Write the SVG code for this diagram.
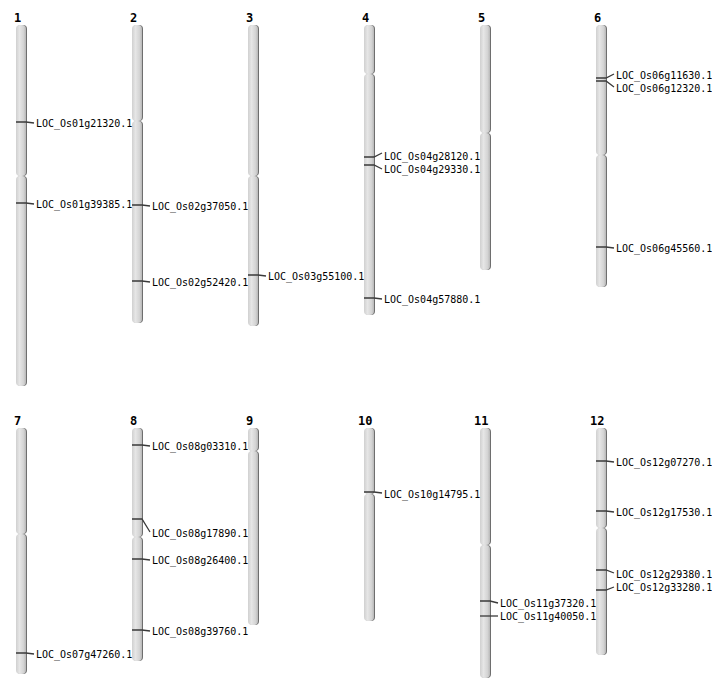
<svg xmlns="http://www.w3.org/2000/svg" width="712" height="700" viewBox="0 0 712 700">
<defs>
<linearGradient id="g" x1="0" y1="0" x2="1" y2="0">
<stop offset="0" stop-color="#d0d0d0"/>
<stop offset="0.35" stop-color="#e6e6e6"/>
<stop offset="0.75" stop-color="#d4d4d4"/>
<stop offset="1" stop-color="#b8b8b8"/>
</linearGradient>
</defs>
<style>
.sh{fill:#6e6e6e}
.arm{fill:url(#g)}
.num{font-family:"DejaVu Sans Mono",monospace;font-weight:bold;font-size:12px;fill:#000}
.lab{font-family:"DejaVu Sans Mono",monospace;font-size:10px;fill:#000}
.mk{fill:none;stroke:#3a3a3a;stroke-width:1.3}
</style>
<rect width="712" height="700" fill="#fff"/>

<g id="chr1">
<text class="num" x="14" y="22">1</text>
<rect class="sh" x="17" y="25" width="10" height="151" rx="4"/><rect class="arm" x="16" y="25" width="10" height="151" rx="4"/>
<rect class="sh" x="17" y="176" width="10" height="210" rx="4"/><rect class="arm" x="16" y="176" width="10" height="210" rx="4"/>
</g>
<g id="chr2">
<text class="num" x="130" y="22">2</text>
<rect class="sh" x="133" y="25" width="10" height="96" rx="4"/><rect class="arm" x="132" y="25" width="10" height="96" rx="4"/>
<rect class="sh" x="133" y="121" width="10" height="202" rx="4"/><rect class="arm" x="132" y="121" width="10" height="202" rx="4"/>
</g>
<g id="chr3">
<text class="num" x="246" y="22">3</text>
<rect class="sh" x="249" y="25" width="10" height="151" rx="4"/><rect class="arm" x="248" y="25" width="10" height="151" rx="4"/>
<rect class="sh" x="249" y="176" width="10" height="150" rx="4"/><rect class="arm" x="248" y="176" width="10" height="150" rx="4"/>
</g>
<g id="chr4">
<text class="num" x="362" y="22">4</text>
<rect class="sh" x="365" y="25" width="10" height="49" rx="4"/><rect class="arm" x="364" y="25" width="10" height="49" rx="4"/>
<rect class="sh" x="365" y="74" width="10" height="241" rx="4"/><rect class="arm" x="364" y="74" width="10" height="241" rx="4"/>
</g>
<g id="chr5">
<text class="num" x="478" y="22">5</text>
<rect class="sh" x="481" y="25" width="10" height="108" rx="4"/><rect class="arm" x="480" y="25" width="10" height="108" rx="4"/>
<rect class="sh" x="481" y="133" width="10" height="137" rx="4"/><rect class="arm" x="480" y="133" width="10" height="137" rx="4"/>
</g>
<g id="chr6">
<text class="num" x="594" y="22">6</text>
<rect class="sh" x="597" y="25" width="10" height="130" rx="4"/><rect class="arm" x="596" y="25" width="10" height="130" rx="4"/>
<rect class="sh" x="597" y="155" width="10" height="132" rx="4"/><rect class="arm" x="596" y="155" width="10" height="132" rx="4"/>
</g>
<g id="chr7">
<text class="num" x="14" y="425">7</text>
<rect class="sh" x="17" y="428" width="10" height="106" rx="4"/><rect class="arm" x="16" y="428" width="10" height="106" rx="4"/>
<rect class="sh" x="17" y="534" width="10" height="140" rx="4"/><rect class="arm" x="16" y="534" width="10" height="140" rx="4"/>
</g>
<g id="chr8">
<text class="num" x="130" y="425">8</text>
<rect class="sh" x="133" y="428" width="10" height="109" rx="4"/><rect class="arm" x="132" y="428" width="10" height="109" rx="4"/>
<rect class="sh" x="133" y="537" width="10" height="124" rx="4"/><rect class="arm" x="132" y="537" width="10" height="124" rx="4"/>
</g>
<g id="chr9">
<text class="num" x="246" y="425">9</text>
<rect class="sh" x="249" y="428" width="10" height="23" rx="4"/><rect class="arm" x="248" y="428" width="10" height="23" rx="4"/>
<rect class="sh" x="249" y="451" width="10" height="174" rx="4"/><rect class="arm" x="248" y="451" width="10" height="174" rx="4"/>
</g>
<g id="chr10">
<text class="num" x="358" y="425">10</text>
<rect class="sh" x="365" y="428" width="10" height="66" rx="4"/><rect class="arm" x="364" y="428" width="10" height="66" rx="4"/>
<rect class="sh" x="365" y="494" width="10" height="127" rx="4"/><rect class="arm" x="364" y="494" width="10" height="127" rx="4"/>
</g>
<g id="chr11">
<text class="num" x="474" y="425">11</text>
<rect class="sh" x="481" y="428" width="10" height="117" rx="4"/><rect class="arm" x="480" y="428" width="10" height="117" rx="4"/>
<rect class="sh" x="481" y="545" width="10" height="133" rx="4"/><rect class="arm" x="480" y="545" width="10" height="133" rx="4"/>
</g>
<g id="chr12">
<text class="num" x="590" y="425">12</text>
<rect class="sh" x="597" y="428" width="10" height="100" rx="4"/><rect class="arm" x="596" y="428" width="10" height="100" rx="4"/>
<rect class="sh" x="597" y="528" width="10" height="127" rx="4"/><rect class="arm" x="596" y="528" width="10" height="127" rx="4"/>
</g>

<g id="connectors">
<polyline class="mk" points="16,122 26,122 34,123"/>
<polyline class="mk" points="16,203 26,203 34,204"/>
<polyline class="mk" points="132,205 142,205 150,206"/>
<polyline class="mk" points="132,281 142,281 150,282"/>
<polyline class="mk" points="248,275 258,275 266,276"/>
<polyline class="mk" points="364,157 374,157 382,153"/>
<polyline class="mk" points="364,165 374,165 382,169"/>
<polyline class="mk" points="364,298 374,298 382,299"/>
<polyline class="mk" points="596,78 606,78 614,74"/>
<polyline class="mk" points="596,81 606,81 614,87"/>
<polyline class="mk" points="596,247 606,247 614,248"/>
<polyline class="mk" points="16,653 26,653 34,654"/>
<polyline class="mk" points="132,445 142,445 150,446"/>
<polyline class="mk" points="132,519 142,519 150,532"/>
<polyline class="mk" points="132,559 142,559 150,560"/>
<polyline class="mk" points="132,630 142,630 150,631"/>
<polyline class="mk" points="364,492 374,492 382,493"/>
<polyline class="mk" points="480,601 490,601 498,603"/>
<polyline class="mk" points="480,616 490,616 498,616"/>
<polyline class="mk" points="596,461 606,461 614,462"/>
<polyline class="mk" points="596,511 606,511 614,512"/>
<polyline class="mk" points="596,570 606,570 614,573"/>
<polyline class="mk" points="596,590 606,590 614,587"/>
</g>

<g id="labels">
<text class="lab" x="36" y="126.5">LOC_Os01g21320.1</text>
<text class="lab" x="36" y="207.5">LOC_Os01g39385.1</text>
<text class="lab" x="152" y="209.5">LOC_Os02g37050.1</text>
<text class="lab" x="152" y="285.5">LOC_Os02g52420.1</text>
<text class="lab" x="268" y="279.5">LOC_Os03g55100.1</text>
<text class="lab" x="384" y="159.5">LOC_Os04g28120.1</text>
<text class="lab" x="384" y="172.5">LOC_Os04g29330.1</text>
<text class="lab" x="384" y="302.5">LOC_Os04g57880.1</text>
<text class="lab" x="616" y="78.5">LOC_Os06g11630.1</text>
<text class="lab" x="616" y="91.5">LOC_Os06g12320.1</text>
<text class="lab" x="616" y="251.5">LOC_Os06g45560.1</text>
<text class="lab" x="36" y="657.5">LOC_Os07g47260.1</text>
<text class="lab" x="152" y="449.5">LOC_Os08g03310.1</text>
<text class="lab" x="152" y="536.5">LOC_Os08g17890.1</text>
<text class="lab" x="152" y="563.5">LOC_Os08g26400.1</text>
<text class="lab" x="152" y="634.5">LOC_Os08g39760.1</text>
<text class="lab" x="384" y="497.5">LOC_Os10g14795.1</text>
<text class="lab" x="500" y="606.5">LOC_Os11g37320.1</text>
<text class="lab" x="500" y="619.5">LOC_Os11g40050.1</text>
<text class="lab" x="616" y="465.5">LOC_Os12g07270.1</text>
<text class="lab" x="616" y="515.5">LOC_Os12g17530.1</text>
<text class="lab" x="616" y="577.5">LOC_Os12g29380.1</text>
<text class="lab" x="616" y="590.5">LOC_Os12g33280.1</text>
</g>
</svg>
